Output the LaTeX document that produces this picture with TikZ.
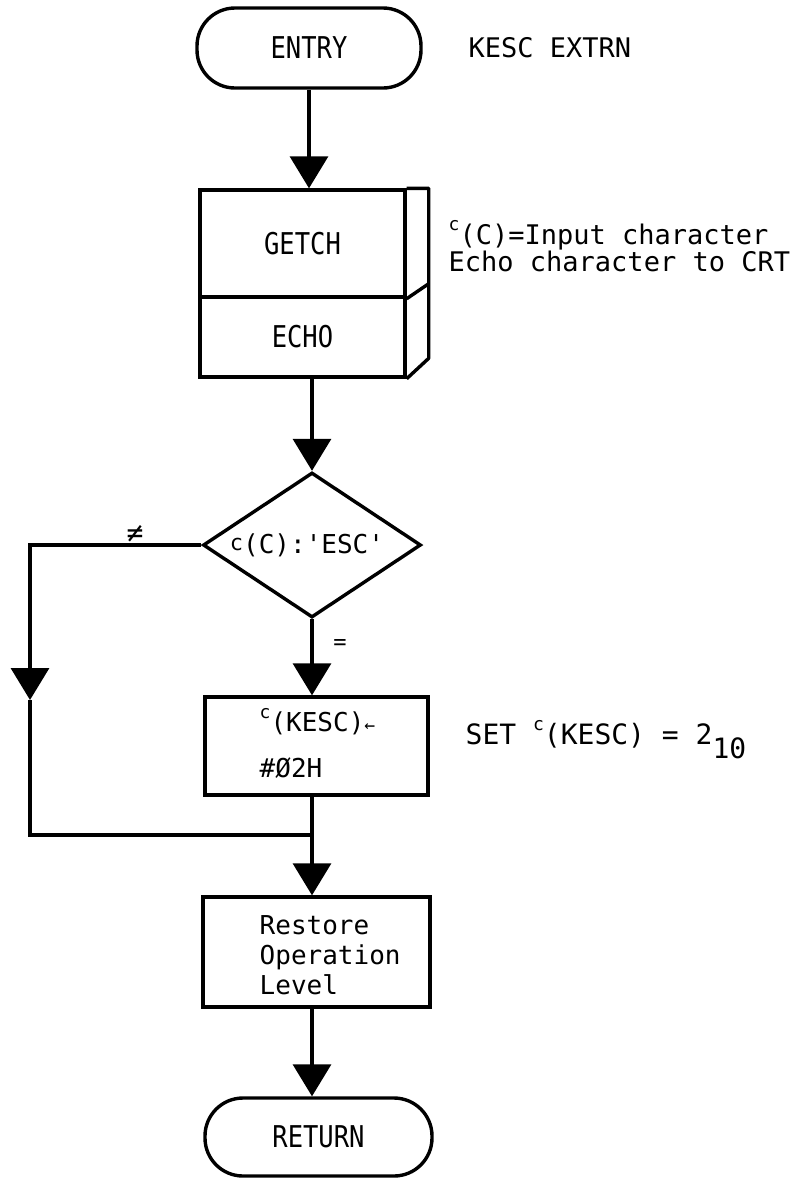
\documentclass[tikz,border=0pt]{standalone}
\usepackage{fontspec}
\newfontfamily\tf[FakeStretch=0.85,Ligatures=TeXOff]{DejaVu Sans Mono}
\newfontfamily\nf[Ligatures=TeXOff]{DejaVu Sans Mono}
\usetikzlibrary{arrows.meta,shapes.geometric}
\newcommand{\supc}[2][0.5em]{\raisebox{#1}{\fontsize{#2}{#2}\selectfont c}}
\begin{document}
\begin{tikzpicture}[x=1pt,y=-1pt,line width=3.4pt,
  term/.style={draw,rounded corners=38pt,minimum width=224pt,minimum height=80pt,inner sep=0pt,font=\tf\fontsize{30}{30}\selectfont},
  box/.style={draw,inner sep=0pt,font=\tf\fontsize{30}{30}\selectfont},
  arr/.style={-{Triangle[width=38pt,length=32pt]}},
  note/.style={inner sep=0pt,anchor=west,align=left,font=\nf\fontsize{27}{24}\selectfont},
  intext/.style={inner sep=0pt,anchor=west,align=left,font=\nf\fontsize{26}{30}\selectfont}]
\useasboundingbox (0,0) rectangle (803,1179);
% entry
\node[term] (entry) at (309,48) {ENTRY};
\node[note] (kesc) at (467,48) {KESC EXTRN};
% getch / echo
\node[box,minimum width=205pt,minimum height=107pt] (getch) at (302.5,243.5) {GETCH};
\node[box,minimum width=205pt,minimum height=80pt] (echo) at (302.5,337) {ECHO};
\draw[line join=round] (getch.north east) -- ++(22,0) -- ++(0,170) -- (echo.south east);
\draw (getch.south east) -- ++(22,-15);
\node[note] (n1) at (447,246) {\supc{18}(C)=Input character\\Echo character to CRT};
% decision
\node[draw,diamond,aspect=1.5,inner sep=0pt,minimum width=218pt,minimum height=145pt,font=\nf\fontsize{26}{26}\selectfont] (dec) at (312,545) {\hspace*{-10pt}\supc[0.1em]{22}(C):'ESC'};
% set kesc
\node[box,minimum width=223pt,minimum height=98pt] (kset) at (316.5,746) {};
\node[intext] (k1) at (258,722) {\supc{18}(KESC){\fontsize{18}{18}\selectfont ←}};
\node[intext] (k2) at (258,768) {\#Ø2H};
\node[note,font=\nf\fontsize{28}{28}\selectfont] (n2) at (464,740) {SET \supc{18}(KESC) = 2\raisebox{-14pt}{10}};
% restore
\node[box,minimum width=227pt,minimum height=110pt] (rest) at (316.5,952) {};
\node[intext] (rt) at (258,955) {Restore\\Operation\\Level};
% return
\node[term,minimum width=227pt,minimum height=78pt] (ret) at (318.5,1137) {RETURN};
% connectors
\coordinate (lc) at (30,545);
\coordinate (la) at (30,700);
\coordinate (lj) at (30,835);
\coordinate (mj) at (312,835);
\draw[arr] (entry.south) -- (entry.south |- getch.north);
\draw[arr] (dec.north |- echo.south) -- (dec.north);
\draw[arr] (dec.south) -- (dec.south |- kset.north);
\draw[arr] (dec.west) -- (lc) -- (la);
\draw (la) -- (lj) -- (mj);
\draw (kset.south -| mj) -- (mj);
\draw[arr] (mj) -- (mj |- rest.north);
\draw[arr] (rest.south -| mj) -- (mj |- ret.north);
\node[font=\nf\fontsize{28}{28}\selectfont] (ne) at (135,534) {≠};
\node[font=\nf\fontsize{22}{22}\selectfont] (eq) at (340,644) {=};
\end{tikzpicture}
\end{document}
